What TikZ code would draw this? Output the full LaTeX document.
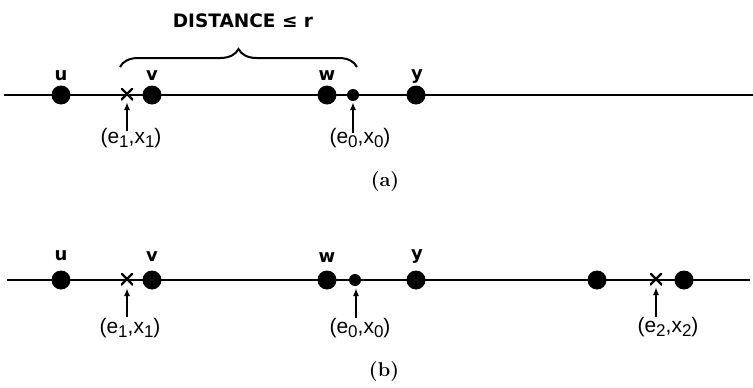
\documentclass[tikz,border=0pt]{standalone}
\usepackage{fontspec}
\setsansfont{DejaVu Sans}
\newfontfamily\plfont{Liberation Sans}
\usetikzlibrary{decorations.pathreplacing,arrows.meta}
\tikzset{
  big/.style={circle,fill=black,inner sep=0pt,minimum size=19pt},
  small/.style={circle,fill=black,inner sep=0pt,minimum size=12pt},
  cross/.style={inner sep=0pt,minimum size=12pt,
    path picture={\draw[line width=2.2pt]
      (path picture bounding box.south west) -- (path picture bounding box.north east)
      (path picture bounding box.north west) -- (path picture bounding box.south east);}},
  vlabel/.style={font=\sffamily\bfseries\fontsize{18}{18}\selectfont,inner sep=0pt,anchor=base},
  plabel/.style={font=\plfont\fontsize{21}{21}\selectfont,inner sep=0pt,anchor=base},
  axis/.style={line width=2.7pt},
  pointer/.style={line width=2pt,-{Latex[length=8pt,width=6pt]}},
  figcap/.style={font=\rmfamily\bfseries\fontsize{20}{20}\selectfont,inner sep=0pt}
}
\newcommand{\sbt}[1]{\raisebox{-0.4ex}{\fontsize{17}{17}\selectfont #1}}
\begin{document}
\begin{tikzpicture}[x=1pt,y=-1pt]
\useasboundingbox (0,0) rectangle (753,388);
% ---------- (a) ----------
\coordinate (aL) at (4,95);
\coordinate (aR) at (753,95);
\draw[axis] (aL) -- (aR);
\node[big] (au) at (61,95) {};
\node[big] (av) at (152,95) {};
\node[big] (aw) at (327,95) {};
\node[small] (ao) at (353,95) {};
\node[big] (ay) at (416,95) {};
\node[cross] (ax) at (127,94) {};
\node[vlabel] at (61,80) {u};
\node[vlabel] at (152,80) {v};
\node[vlabel] at (327,80) {w};
\node[vlabel] at (417,79) {y};
\node[plabel] (ae1) at (131,143) {(e\sbt{1},x\sbt{1})};
\node[plabel] (ae0) at (360,143) {(e\sbt{0},x\sbt{0})};
\coordinate (aa1) at (127,102);
\coordinate (aa0) at (353,102);
\draw[pointer] (127,131) -- (aa1);
\draw[pointer] (353,133) -- (aa0);
\draw[line width=2pt,decorate,decoration={brace,amplitude=18pt}] (120,67) -- (357,67);
\node[font=\sffamily\bfseries\fontsize{18.5}{18}\selectfont,inner sep=0pt] (dist) at (243,21) {DISTANCE ≤ r};
\node[figcap] (capa) at (385,182) {(a)};
% ---------- (b) ----------
\coordinate (bL) at (7,280);
\coordinate (bR) at (750,280);
\draw[axis] (bL) -- (bR);
\node[big] (bu) at (61,280) {};
\node[big] (bv) at (152,280) {};
\node[big] (bw) at (327,280) {};
\node[small] (bo) at (355,280) {};
\node[big] (by) at (416,280) {};
\node[big] (bp) at (597,280) {};
\node[big] (bq) at (684,280) {};
\node[cross] (bx) at (127,279) {};
\node[cross] (bx2) at (656,279) {};
\node[vlabel] at (61,260) {u};
\node[vlabel] at (152,261) {v};
\node[vlabel] at (327,262) {w};
\node[vlabel] at (417,259) {y};
\node[plabel] (be1) at (130,333) {(e\sbt{1},x\sbt{1})};
\node[plabel] (be0) at (360,333) {(e\sbt{0},x\sbt{0})};
\node[plabel] (be2) at (668,332) {(e\sbt{2},x\sbt{2})};
\coordinate (ba1) at (127,288);
\coordinate (ba0) at (356,288);
\coordinate (ba2) at (656,287);
\draw[pointer] (127,317) -- (ba1);
\draw[pointer] (356,318) -- (ba0);
\draw[pointer] (656,317) -- (ba2);
\node[figcap] (capb) at (384,372) {(b)};
\end{tikzpicture}
\end{document}
